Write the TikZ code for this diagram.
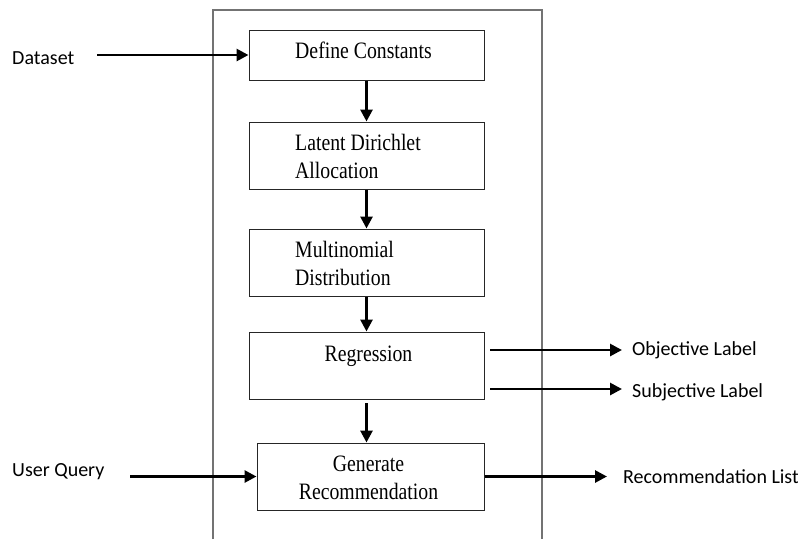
\documentclass[tikz,border=0pt]{standalone}
\usepackage{fontspec}
\setmainfont{Liberation Serif}
\newfontfamily\boxfont{Liberation Serif}[FakeStretch=0.84]
\newfontfamily\labfont{Carlito}
\usetikzlibrary{arrows.meta,calc}
\begin{document}
\begin{tikzpicture}[x=1pt,y=-1pt,
  box/.style={draw=black!85, line width=1pt, minimum width=235pt, minimum height=67pt, inner sep=0pt},
  btext/.style={font=\boxfont\fontsize{23.5}{28}\selectfont, inner sep=0pt, align=left},
  ltext/.style={font=\labfont\fontsize{20}{24}\selectfont, inner sep=0pt, anchor=west},
  arr/.style={line width=2.8pt, -{Triangle[length=12pt,width=12pt]}}]
\useasboundingbox (0,0) rectangle (798,539);
\fill[white] (0,0) rectangle (798,539);
% outer frame
\draw[black!55, line width=1.3pt] (213,539) -- (213,10) -- (542,10) -- (542,539);
% boxes
\node[box, minimum height=50pt] (dc) at (366.5,55) {};
\node[box] (lda) at (366.5,155.5) {};
\node[box] (mn) at (366.5,262.5) {};
\node[box] (reg) at (366.5,365.5) {};
\node[box, minimum width=227pt] (gen) at (370.5,476.5) {};
% box texts
\node[btext, anchor=base] (tdc) at (363.5,58) {Define Constants};
\node[btext, anchor=base west] (tlda) at (295,178.5) {Latent Dirichlet\\Allocation};
\node[btext, anchor=base west] (tmn) at (295,285) {Multinomial\\Distribution};
\node[btext, anchor=base] (treg) at (368.5,361) {Regression};
\node[btext, anchor=base, align=center] (tgen) at (368.5,499) {Generate\\Recommendation};
% labels
\node[ltext] (ds) at (12,58) {Dataset};
\node[ltext] (uq) at (12,472) {User Query};
\node[ltext] (ol) at (632,350) {Objective Label};
\node[ltext] (sl) at (632,392) {Subjective Label};
\node[ltext] (rl) at (623,477) {Recommendation List};
% arrows
\coordinate (dsE) at (97,55);
\draw[arr] (dsE) -- (dc.west);
\draw[arr] (dc.south) -- (lda.north);
\draw[arr] (lda.south) -- (mn.north);
\draw[arr] (mn.south) -- (reg.north);
\coordinate (regB) at (366.5,403);
\draw[arr] (regB) -- (regB |- gen.north);
\coordinate (o1) at (490,350);
\coordinate (s1) at (490,389);
\draw[arr] (o1) -- ($(ol.west)+(-10,0)$);
\draw[arr] (s1) -- ($(sl.west |- s1)+(-10,0)$);
\coordinate (uqE) at (130,476.5);
\draw[arr] (uqE) -- (gen.west);
\draw[arr] (gen.east) -- ($(rl.west |- gen.east)+(-16,0)$);
\end{tikzpicture}
\end{document}
